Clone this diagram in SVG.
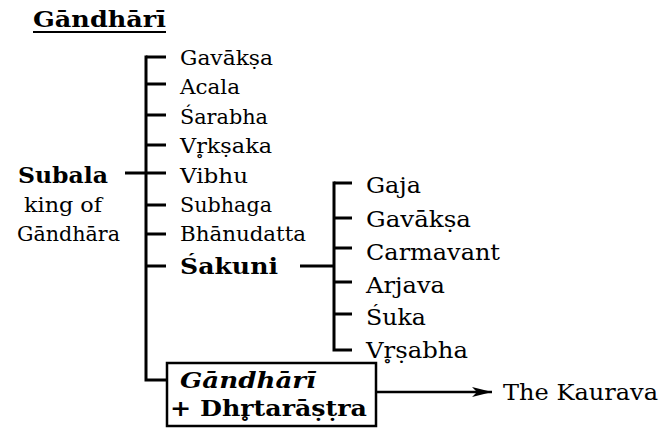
<svg xmlns="http://www.w3.org/2000/svg" width="661" height="432" viewBox="0 0 661 432">
<style>
text{font-family:"DejaVu Serif","Liberation Serif",serif;fill:#000}
.n{font-size:21px}
.m{font-size:23px}
.b{font-weight:bold;font-size:23px}
.ln{stroke:#000;stroke-width:3;fill:none}
</style>
<defs>
<marker id="ah" viewBox="0 0 20 10" refX="20" refY="5" markerWidth="20" markerHeight="10" markerUnits="userSpaceOnUse" orient="auto">
<path d="M0,0 L20,5 L0,10 L5,5 Z" fill="#000"/>
</marker>
</defs>
<g id="title">
<text class="b" x="33" y="27" textLength="133" lengthAdjust="spacingAndGlyphs">Gāndhārī</text>
<line x1="33" y1="32" x2="166" y2="32" stroke="#000" stroke-width="2"/>
</g>
<g id="connectors" class="ln">
<path d="M125,173 H146 M146,55.5 V380 H167"/>
<path d="M146,57 H166 M146,84 H166 M146,115 H166 M146,145 H166 M146,173 H166 M146,205 H166 M146,234 H166 M146,266 H166"/>
<path d="M300,266 H334 M334,181.5 V350 H352"/>
<path d="M334,183 H352 M334,218 H352 M334,248 H352 M334,282 H352 M334,314 H352"/>
<line x1="376" y1="392" x2="492" y2="392" stroke-width="2.5" marker-end="url(#ah)"/>
</g>
<g id="subala">
<text class="b" x="18" y="183" textLength="90" lengthAdjust="spacingAndGlyphs">Subala</text>
<text class="n" x="24" y="212" textLength="78" lengthAdjust="spacingAndGlyphs">king of</text>
<text class="n" x="17" y="241" textLength="103" lengthAdjust="spacingAndGlyphs">Gāndhāra</text>
</g>
<g id="sons">
<text class="n" x="180" y="65" textLength="93" lengthAdjust="spacingAndGlyphs">Gavākṣa</text>
<text class="n" x="180" y="94" textLength="60" lengthAdjust="spacingAndGlyphs">Acala</text>
<text class="n" x="180" y="124" textLength="88" lengthAdjust="spacingAndGlyphs">Śarabha</text>
<text class="n" x="180" y="153" textLength="92" lengthAdjust="spacingAndGlyphs">Vr̥kṣaka</text>
<text class="n" x="180" y="183" textLength="68" lengthAdjust="spacingAndGlyphs">Vibhu</text>
<text class="n" x="180" y="212" textLength="92" lengthAdjust="spacingAndGlyphs">Subhaga</text>
<text class="n" x="180" y="241" textLength="126" lengthAdjust="spacingAndGlyphs">Bhānudatta</text>
</g>
<g id="sakuni">
<text class="b" x="180" y="274" textLength="98" lengthAdjust="spacingAndGlyphs">Śakuni</text>
</g>
<g id="sakuni-sons">
<text class="m" x="366" y="193" textLength="55" lengthAdjust="spacingAndGlyphs">Gaja</text>
<text class="m" x="366" y="227" textLength="105" lengthAdjust="spacingAndGlyphs">Gavākṣa</text>
<text class="m" x="366" y="260" textLength="134" lengthAdjust="spacingAndGlyphs">Carmavant</text>
<text class="m" x="366" y="293" textLength="79" lengthAdjust="spacingAndGlyphs">Arjava</text>
<text class="m" x="366" y="325" textLength="60" lengthAdjust="spacingAndGlyphs">Śuka</text>
<text class="m" x="366" y="358" textLength="102" lengthAdjust="spacingAndGlyphs">Vr̥ṣabha</text>
</g>
<g id="gandhari">
<rect x="167" y="363" width="209" height="63" fill="#fff" stroke="#000" stroke-width="2.5"/>
<text class="b" x="180" y="388" font-style="italic" textLength="136" lengthAdjust="spacingAndGlyphs">Gāndhārī</text>
<text class="b" x="170" y="416" textLength="197" lengthAdjust="spacingAndGlyphs">+ Dhr̥tarāṣṭra</text>
</g>
<g id="kaurava">
<text class="m" x="503" y="400" textLength="155" lengthAdjust="spacingAndGlyphs">The Kaurava</text>
</g>
</svg>
